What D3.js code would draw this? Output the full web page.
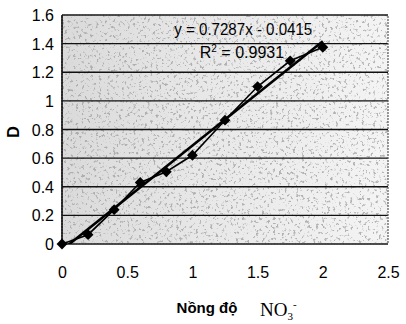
<!DOCTYPE html>
<html>
<head>
<meta charset="utf-8">
<script src="https://cdn.jsdelivr.net/npm/d3@7"></script>
<style>
  body { margin: 0; background: #fff; }
  svg { display: block; }
</style>
</head>
<body>
<div id="chart"></div>
<script>
const concentrations = [0, 0.2, 0.4, 0.6, 0.8, 1.0, 1.25, 1.5, 1.75, 2.0];
const absorbance = [0, 0.065, 0.24, 0.43, 0.505, 0.62, 0.865, 1.1, 1.28, 1.375];
const slope = 0.7287;
const intercept = -0.0415;
const xTickValues = [0, 0.5, 1, 1.5, 2, 2.5];
const yTickValues = [0, 0.2, 0.4, 0.6, 0.8, 1, 1.2, 1.4, 1.6];

const width = 406;
const height = 324;
const margin = { top: 15, right: 18, bottom: 80, left: 62 };
const innerWidth = width - margin.left - margin.right;
const innerHeight = height - margin.top - margin.bottom;
const sans = "Arial, 'Liberation Sans', sans-serif";

const svg = d3.select("#chart")
    .append("svg")
    .attr("width", width)
    .attr("height", height);

const defs = svg.append("defs");
const grad = defs.append("linearGradient")
    .attr("id", "bg")
    .attr("x1", "0").attr("x2", "1").attr("y1", "0").attr("y2", "0");
grad.append("stop").attr("offset", "0%").attr("stop-color", "#dadada");
grad.append("stop").attr("offset", "40%").attr("stop-color", "#e7e7e7");
grad.append("stop").attr("offset", "100%").attr("stop-color", "#f4f4f4");

// clumpy speckles like a scanned page
const noise = defs.append("filter").attr("id", "grain")
    .attr("x", 0).attr("y", 0).attr("width", "100%").attr("height", "100%");
noise.append("feTurbulence")
    .attr("type", "fractalNoise")
    .attr("baseFrequency", 0.35)
    .attr("numOctaves", 3)
    .attr("seed", 5)
    .attr("result", "n");
noise.append("feColorMatrix")
    .attr("in", "n")
    .attr("type", "matrix")
    .attr("values", "0 0 0 0 0.35  0 0 0 0 0.35  0 0 0 0 0.35  0 0 0 -7 2.9");
noise.append("feComposite").attr("in2", "SourceGraphic").attr("operator", "in");

defs.append("clipPath").attr("id", "plotclip")
    .append("rect")
    .attr("width", innerWidth)
    .attr("height", innerHeight);

const graph = svg.append("g")
    .attr("transform", `translate(${margin.left},${margin.top})`);

const x = d3.scaleLinear().domain([0, 2.5]).range([0, innerWidth]);
const y = d3.scaleLinear().domain([0, 1.6]).range([innerHeight, 0]);

graph.append("rect")
    .attr("width", innerWidth)
    .attr("height", innerHeight)
    .attr("fill", "url(#bg)");
graph.append("rect")
    .attr("width", innerWidth)
    .attr("height", innerHeight)
    .attr("fill", "#000")
    .attr("opacity", 0.75)
    .attr("filter", "url(#grain)");

// horizontal gridlines
graph.append("g")
    .selectAll("line")
    .data(yTickValues)
    .join("line")
    .attr("x1", 0)
    .attr("x2", innerWidth)
    .attr("y1", d => y(d))
    .attr("y2", d => y(d))
    .attr("stroke", "#111")
    .attr("stroke-width", 1.4);

// plot border
graph.append("rect")
    .attr("width", innerWidth)
    .attr("height", innerHeight)
    .attr("fill", "none")
    .attr("stroke", "#555")
    .attr("stroke-width", 1.2)
    .attr("stroke-dasharray", "2,1");
graph.append("line")
    .attr("x1", 0).attr("x2", 0)
    .attr("y1", 0).attr("y2", innerHeight)
    .attr("stroke", "#111")
    .attr("stroke-width", 1.6);

// axes (labels only)
const yAxis = graph.append("g")
    .attr("transform", "translate(-5,0)")
    .attr("font-size", 16)
    .attr("font-family", sans)
    .call(d3.axisLeft(y).tickValues(yTickValues).tickSize(0).tickFormat(d3.format("")));
yAxis.attr("font-size", 16).attr("font-family", sans);
yAxis.select(".domain").remove();
yAxis.selectAll("text")
    .attr("fill", "#000")
    .attr("dy", "0.35em");

const xAxis = graph.append("g")
    .attr("transform", `translate(0,${innerHeight})`)
    .call(d3.axisBottom(x).tickValues(xTickValues).tickSize(0).tickFormat(d3.format("")));
xAxis.attr("font-size", 16).attr("font-family", sans);
xAxis.select(".domain").remove();
xAxis.selectAll("text")
    .attr("fill", "#000")
    .attr("y", 34)
    .attr("dy", 0);

const plot = graph.append("g").attr("clip-path", "url(#plotclip)");

// linear trendline
plot.append("line")
    .attr("x1", x(0))
    .attr("y1", y(slope * 0 + intercept))
    .attr("x2", x(2))
    .attr("y2", y(slope * 2 + intercept))
    .attr("stroke", "#000")
    .attr("stroke-width", 2.6);

const points = concentrations.map((c, i) => [c, absorbance[i]]);

plot.append("path")
    .datum(points)
    .attr("fill", "none")
    .attr("stroke", "#000")
    .attr("stroke-width", 1.6)
    .attr("d", d3.line().x(d => x(d[0])).y(d => y(d[1])));

graph.append("g")
    .selectAll("path")
    .data(points)
    .join("path")
    .attr("transform", d => `translate(${x(d[0])},${y(d[1])})`)
    .attr("d", d3.symbol(d3.symbolDiamond2, 75))
    .attr("fill", "#000");

// regression labels
const eq = graph.append("g")
    .attr("font-family", sans)
    .attr("font-size", 16)
    .attr("fill", "#000")
    .attr("text-anchor", "middle");
eq.append("text")
    .attr("x", x(1.39))
    .attr("y", 20)
    .attr("textLength", 138)
    .attr("lengthAdjust", "spacingAndGlyphs")
    .text(`y = ${slope}x - ${Math.abs(intercept)}`);
const r2 = eq.append("text")
    .attr("x", x(1.38))
    .attr("y", 43);
r2.append("tspan").text("R");
r2.append("tspan").attr("font-size", 10).attr("dy", -6).text("2");
r2.append("tspan").attr("dy", 6).text(" = 0.9931");

// axis titles
svg.append("text")
    .attr("transform", "translate(19,132) rotate(-90)")
    .attr("text-anchor", "middle")
    .attr("font-family", sans)
    .attr("font-weight", "bold")
    .attr("font-size", 16)
    .attr("fill", "#000")
    .text("D");

svg.append("text")
    .attr("x", 207)
    .attr("y", 313)
    .attr("text-anchor", "middle")
    .attr("font-family", sans)
    .attr("font-weight", "bold")
    .attr("font-size", 15)
    .attr("fill", "#000")
    .text("Nồng độ");

const no3 = svg.append("text")
    .attr("x", 260)
    .attr("y", 316)
    .attr("font-family", "'Liberation Serif', 'Times New Roman', serif")
    .attr("font-size", 19)
    .attr("fill", "#000");
no3.append("tspan").text("NO");
no3.append("tspan").attr("font-size", 11).attr("dy", 4).text("3");
no3.append("tspan").attr("font-size", 11).attr("dy", -12).text("-");
</script>
</body>
</html>
